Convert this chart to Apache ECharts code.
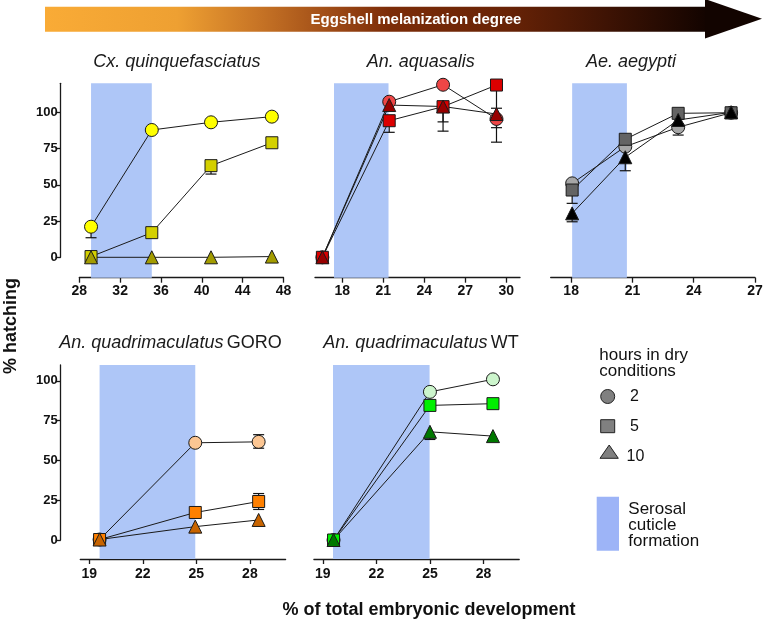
<!DOCTYPE html>
<html><head><meta charset="utf-8">
<script src="https://cdn.jsdelivr.net/npm/echarts@6/dist/echarts.min.js"></script>
<style>html,body{margin:0;padding:0;background:#fff}#c{width:763px;height:621px}</style>
</head><body><div id="c"></div>
<script>
// ---------------- DATA ----------------
const hoursLabels = ['2', '5', '10'];
const yTicks = [0, 25, 50, 75, 100];

// Cx. quinquefasciatus
const cxX = [29.15, 35.1, 40.9, 46.86];
const cx2 = [21.1, 87.8, 93.1, 97.0];
const cx5 = [0.5, 17, 63.2, 79];
const cx10 = [0, 0, 0, 0.5];
const cx2ErrDown = [7.6, 0, 0, 0];
const cx5ErrDown = [0, 0, 5.8, 0];
const cxBand = [29.15, 35.1];
const cxTicks = [28, 32, 36, 40, 44, 48];

// An. aquasalis
const aqX = [16.54, 21.43, 25.37, 29.28];
const aq2 = [0, 107.3, 119, 95.4];
const aq5 = [0, 94.2, 103.9, 118.8];
const aq10 = [0, 105, 104, 98.8];
const aq2ErrDown = [0, 0, 0, 16];
const aq5ErrDown = [0, 8, 10.5, 16];
const aq10ErrDown = [0, 0, 17, 9.4];
const aqBand = [17.39, 21.38];
const aqTicks = [18, 21, 24, 27, 30];

// Ae. aegypti
const aeX = [18.05, 20.65, 23.24, 25.83];
const ae2 = [51, 76.3, 89.7, 99.7];
const ae5 = [46.4, 81.4, 99.3, 99.7];
const ae10 = [30.3, 69, 94.7, 100];
const ae2ErrDown = [0, 0, 5.4, 0];
const ae5ErrDown = [9.2, 0, 0, 0];
const ae10ErrDown = [5.8, 9.3, 0, 0];
const aeBand = [18.05, 20.73];
const aeTicks = [18, 21, 24, 27];

// An. quadrimaculatus GORO
const goX = [19.58, 24.94, 28.49];
const go2 = [0.3, 61.1, 61.7];
const go5 = [0.3, 17.3, 24.2];
const go10 = [0.3, 8.4, 12.6];
const go2ErrDown = [0, 0, 4];
const go2ErrUp = [0, 0, 4.5];
const go5ErrDown = [0, 0, 5];
const go5ErrUp = [0, 0, 5];
const goBand = [19.58, 24.94];
const goTicks = [19, 22, 25, 28];

// An. quadrimaculatus WT
const wtX = [19.6, 25, 28.53];
const wt2 = [0, 93.1, 101];
const wt5 = [0, 84.6, 85.7];
const wt10 = [0, 68, 65.3];
const wt10ErrDown = [0, 4.8, 0];
const wtBand = [19.57, 24.98];
const wtTicks = [19, 22, 25, 28];

// ---------------- PANELS (data references) ----------------
const zeros = n => new Array(n).fill(0);
const panels = [
  { x: cxX, ys: [cx2, cx5, cx10], down: [cx2ErrDown, cx5ErrDown, zeros(4)], up: [zeros(4), zeros(4), zeros(4)], band: cxBand, ticks: cxTicks,
    colors: ['#ffff00', '#d4d000', '#a39c00'] },
  { x: aqX, ys: [aq2, aq5, aq10], down: [aq2ErrDown, aq5ErrDown, aq10ErrDown], up: [zeros(4), zeros(4), zeros(4)], band: aqBand, ticks: aqTicks,
    colors: ['#ee4646', '#dc0000', '#980000'] },
  { x: aeX, ys: [ae2, ae5, ae10], down: [ae2ErrDown, ae5ErrDown, ae10ErrDown], up: [zeros(4), zeros(4), zeros(4)], band: aeBand, ticks: aeTicks,
    colors: ['#a6a6a6', '#646464', '#000000'] },
  { x: goX, ys: [go2, go5, go10], down: [go2ErrDown, go5ErrDown, zeros(3)], up: [go2ErrUp, go5ErrUp, zeros(3)], band: goBand, ticks: goTicks,
    colors: ['#fcc693', '#ff8000', '#c86400'] },
  { x: wtX, ys: [wt2, wt5, wt10], down: [zeros(3), zeros(3), wt10ErrDown], up: [zeros(3), zeros(3), zeros(3)], band: wtBand, ticks: wtTicks,
    colors: ['#ccf5cc', '#00f000', '#007800'] }
];

// ---------------- LAYOUT ----------------
const layout = [
  { left: 79.3, top: 83.3, width: 204.2, height: 174, xMin: 28, xMax: 48, yMax: 120, showY: true, xOff: 20.4, yOff: 18.6, lm: 6 },
  { left: 315, top: 83.3, width: 205, height: 174, xMin: 16, xMax: 31, yMax: 120, showY: false, xOff: 20.4, yOff: 0, lm: 6 },
  { left: 550.7, top: 83.3, width: 204.3, height: 174, xMin: 17, xMax: 27, yMax: 120, showY: false, xOff: 20.4, yOff: 0, lm: 6 },
  { left: 80.3, top: 365, width: 205.3, height: 175, xMin: 18.5, xMax: 30, yMax: 110, showY: true, xOff: 19, yOff: 19.6, lm: 8 },
  { left: 313.9, top: 365, width: 205.3, height: 175, xMin: 18.5, xMax: 30, yMax: 110, showY: false, xOff: 19, yOff: 0, lm: 8 }
];
const FONT = "'Liberation Sans', Arial, sans-serif";
const symbols = ['circle', 'rect', 'triangle'];
const symSizes = [13, 12, 13];
const bandColor = '#aec6f7';
const axisColor = '#1a1a1a';

const grid = [], xAxis = [], yAxis = [], series = [];
layout.forEach((L, i) => {
  grid.push({ left: L.left, top: L.top, width: L.width, height: L.height, containLabel: false, outerBoundsMode: 'none' });
  xAxis.push({
    gridIndex: i, type: 'value', min: L.xMin, max: L.xMax, position: 'bottom', offset: L.xOff,
    axisLine: { show: true, onZero: false, lineStyle: { color: axisColor, width: 1.3 } },
    axisTick: { show: true, length: 5, customValues: panels[i].ticks, lineStyle: { color: axisColor, width: 1.3 } },
    axisLabel: { customValues: panels[i].ticks, fontFamily: FONT, fontWeight: 'bold', fontSize: 14, color: '#111', margin: L.lm },
    splitLine: { show: false }
  });
  yAxis.push({
    gridIndex: i, type: 'value', min: 0, max: L.yMax, position: 'left', offset: L.yOff, show: L.showY,
    axisLine: { show: true, onZero: false, lineStyle: { color: axisColor, width: 1.3 } },
    axisTick: { show: true, length: 5, customValues: yTicks, lineStyle: { color: axisColor, width: 1.3 } },
    axisLabel: { customValues: yTicks, fontFamily: FONT, fontWeight: 'bold', fontSize: 13, color: '#111', margin: 3 },
    splitLine: { show: false }
  });
});
// band grids (same x mapping, extend down to the x axis line)
layout.forEach((L, i) => {
  grid.push({ left: L.left, top: L.top, width: L.width, height: L.height + L.xOff, containLabel: false, outerBoundsMode: 'none' });
  xAxis.push({ gridIndex: 5 + i, type: 'value', min: L.xMin, max: L.xMax, show: false });
  yAxis.push({ gridIndex: 5 + i, type: 'value', min: 0, max: 1, show: false });
});

function errRender(params, api) {
  const x = api.value(0), y = api.value(1), lo = api.value(2), hi = api.value(3);
  const c = api.coord([x, y]);
  const cap = 5.5;
  const st = { stroke: '#111', lineWidth: 1.2 };
  const ch = [];
  [[lo, -1], [hi, 1]].forEach(([e, s]) => {
    if (e > 0) {
      const p = api.coord([x, y + s * e]);
      ch.push({ type: 'line', shape: { x1: c[0], y1: c[1], x2: p[0], y2: p[1] }, style: st });
      ch.push({ type: 'line', shape: { x1: p[0] - cap, y1: p[1], x2: p[0] + cap, y2: p[1] }, style: st });
    }
  });
  return { type: 'group', children: ch };
}

panels.forEach((P, i) => {
  // band
  series.push({
    type: 'line', xAxisIndex: 5 + i, yAxisIndex: 5 + i, z: 0, silent: true,
    data: [[P.band[0], 0], [P.band[1], 0]], showSymbol: false, symbol: 'none',
    lineStyle: { opacity: 0 },
    markArea: { silent: true, itemStyle: { color: bandColor, opacity: 1 }, data: [[{ xAxis: P.band[0] }, { xAxis: P.band[1] }]] }
  });
  // error bars
  const errData = [];
  P.ys.forEach((ys, k) => ys.forEach((v, j) => {
    if (P.down[k][j] > 0 || P.up[k][j] > 0) errData.push([P.x[j], v, P.down[k][j], P.up[k][j]]);
  }));
  series.push({ type: 'custom', xAxisIndex: i, yAxisIndex: i, z: 2, silent: true, renderItem: errRender, data: errData, encode: { x: 0, y: 1 } });
  // lines
  P.ys.forEach((ys, k) => {
    series.push({
      type: 'line', name: hoursLabels[k], xAxisIndex: i, yAxisIndex: i, z: 3, clip: false,
      data: ys.map((v, j) => [P.x[j], v]),
      symbol: symbols[k], symbolSize: symSizes[k], showSymbol: true,
      lineStyle: { color: '#1a1a1a', width: 1 },
      itemStyle: { color: P.colors[k], borderColor: '#1a1a1a', borderWidth: 1 }
    });
  });
});

// ---------------- GRAPHICS (arrow, titles, legend, axis names) ----------------
const graphic = [
  { type: 'rect', shape: { x: 45, y: 6.7, width: 661, height: 25 }, style: { fill: { type: 'linear', x: 0, y: 0, x2: 1, y2: 0, colorStops: [
      { offset: 0, color: '#f9ab36' }, { offset: 0.2, color: '#eea032' }, { offset: 0.32, color: '#c87526' },
      { offset: 0.45, color: '#984514' }, { offset: 0.52, color: '#7c2c08' }, { offset: 0.7, color: '#682306' },
      { offset: 0.85, color: '#3e1304' }, { offset: 1, color: '#130400' } ] } }, z: 1 },
  { type: 'polygon', shape: { points: [[705, -1], [762, 18.7], [705, 38.5]] }, style: { fill: '#120400' }, z: 1 },
  { type: 'text', x: 416, y: 19.5, style: { text: 'Eggshell melanization degree', font: "bold 15px 'Liberation Sans', Arial, sans-serif", fill: '#ffffff', align: 'center', verticalAlign: 'middle' }, z: 2 },
  { type: 'text', x: 93.3, y: 62, style: { text: 'Cx. quinquefasciatus', font: "italic 18px 'Liberation Sans', Arial, sans-serif", fill: '#1a1a1a', align: 'left', verticalAlign: 'middle' } },
  { type: 'text', x: 366.7, y: 62, style: { text: 'An. aquasalis', font: "italic 18px 'Liberation Sans', Arial, sans-serif", fill: '#1a1a1a', align: 'left', verticalAlign: 'middle' } },
  { type: 'text', x: 586, y: 62, style: { text: 'Ae. aegypti', font: "italic 18px 'Liberation Sans', Arial, sans-serif", fill: '#1a1a1a', align: 'left', verticalAlign: 'middle' } },
  { type: 'text', x: 59.3, y: 343, style: { text: '{i|An. quadrimaculatus} {n|GORO}', align: 'left', verticalAlign: 'middle',
      rich: { i: { fontFamily: FONT, fontSize: 18, fontStyle: 'italic', fill: '#1a1a1a' }, n: { fontFamily: FONT, fontSize: 18, fill: '#1a1a1a' } } } },
  { type: 'text', x: 323.3, y: 343, style: { text: '{i|An. quadrimaculatus} {n|WT}', align: 'left', verticalAlign: 'middle',
      rich: { i: { fontFamily: FONT, fontSize: 18, fontStyle: 'italic', fill: '#1a1a1a' }, n: { fontFamily: FONT, fontSize: 18, fill: '#1a1a1a' } } } },
  { type: 'text', x: 11, y: 326, rotation: Math.PI / 2, style: { text: '% hatching', font: "bold 18px 'Liberation Sans', Arial, sans-serif", fill: '#111', align: 'center', verticalAlign: 'middle' } },
  { type: 'text', x: 429, y: 610, style: { text: '% of total embryonic development', font: "bold 18px 'Liberation Sans', Arial, sans-serif", fill: '#111', align: 'center', verticalAlign: 'middle' } },
  // legend
  { type: 'text', x: 599.3, y: 355, style: { text: 'hours in dry', font: "17px 'Liberation Sans', Arial, sans-serif", fill: '#111', align: 'left', verticalAlign: 'middle' } },
  { type: 'text', x: 599.3, y: 371.7, style: { text: 'conditions', font: "17px 'Liberation Sans', Arial, sans-serif", fill: '#111', align: 'left', verticalAlign: 'middle' } },
  { type: 'circle', shape: { cx: 607.7, cy: 396.5, r: 7 }, style: { fill: '#808080', stroke: '#222', lineWidth: 1 } },
  { type: 'rect', shape: { x: 600.7, y: 419.7, width: 14, height: 13 }, style: { fill: '#808080', stroke: '#222', lineWidth: 1 } },
  { type: 'polygon', shape: { points: [[609.2, 445], [618.3, 458.3], [600, 458.3]] }, style: { fill: '#808080', stroke: '#222', lineWidth: 1 } },
  { type: 'text', x: 630, y: 396.5, style: { text: hoursLabels[0], font: "16px 'Liberation Sans', Arial, sans-serif", fill: '#111', align: 'left', verticalAlign: 'middle' } },
  { type: 'text', x: 630, y: 426.5, style: { text: hoursLabels[1], font: "16px 'Liberation Sans', Arial, sans-serif", fill: '#111', align: 'left', verticalAlign: 'middle' } },
  { type: 'text', x: 626.5, y: 456.5, style: { text: hoursLabels[2], font: "16px 'Liberation Sans', Arial, sans-serif", fill: '#111', align: 'left', verticalAlign: 'middle' } },
  { type: 'rect', shape: { x: 596.7, y: 496.7, width: 22.3, height: 54 }, style: { fill: '#9db4f7' } },
  { type: 'text', x: 628.3, y: 509, style: { text: 'Serosal', font: "17px 'Liberation Sans', Arial, sans-serif", fill: '#111', align: 'left', verticalAlign: 'middle' } },
  { type: 'text', x: 628.3, y: 525.3, style: { text: 'cuticle', font: "17px 'Liberation Sans', Arial, sans-serif", fill: '#111', align: 'left', verticalAlign: 'middle' } },
  { type: 'text', x: 628.3, y: 541.7, style: { text: 'formation', font: "17px 'Liberation Sans', Arial, sans-serif", fill: '#111', align: 'left', verticalAlign: 'middle' } }
];

const chart = echarts.init(document.getElementById('c'), null, { renderer: 'canvas' });
chart.setOption({
  animation: false,
  backgroundColor: '#ffffff',
  grid, xAxis, yAxis, series, graphic
});
</script>
</body></html>
